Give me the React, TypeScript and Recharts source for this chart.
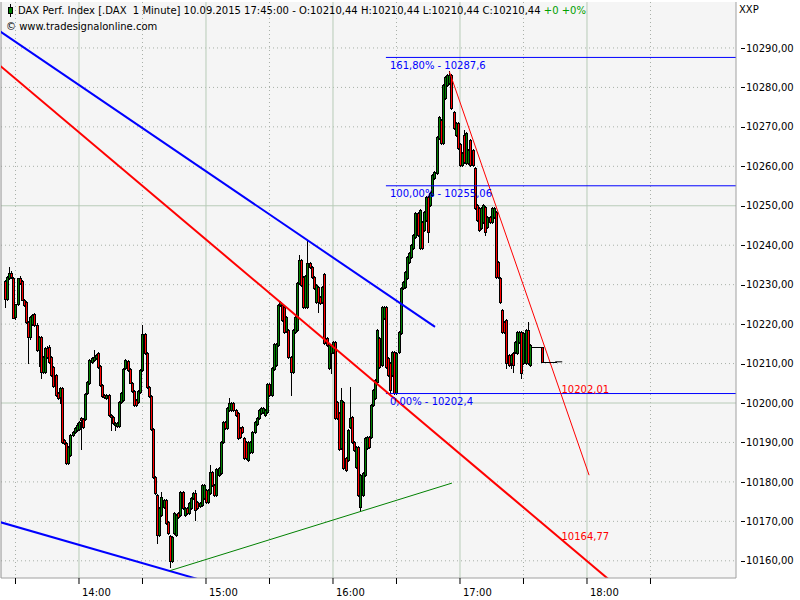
import React from 'react';
import { ComposedChart, Bar, Scatter, XAxis, YAxis, CartesianGrid, ReferenceLine, ReferenceDot } from 'recharts';

// first candle at 13:25 (minutes since midnight)
const START_MINUTE = 805;

// [open, high, low, close], one per minute
const CANDLES: [number, number, number, number][] = [
  [10230.9, 10231.2, 10224.3, 10226.4], [10226.4, 10232.2, 10226.0, 10231.9], [10231.7, 10234.5, 10231.4, 10233.0], [10233.0, 10233.5, 10231.7, 10231.9],
  [10231.7, 10232.0, 10221.5, 10221.6], [10221.8, 10225.1, 10221.3, 10225.1], [10225.1, 10231.7, 10224.8, 10231.7], [10231.7, 10232.2, 10230.2, 10230.4],
  [10230.9, 10231.2, 10226.0, 10226.1], [10226.1, 10226.4, 10224.6, 10224.9], [10225.6, 10225.9, 10220.3, 10220.5], [10220.5, 10220.8, 10210.1, 10216.7],
  [10216.7, 10222.0, 10216.2, 10221.8], [10220.0, 10222.6, 10219.8, 10222.3], [10222.6, 10222.8, 10219.5, 10219.8], [10219.8, 10220.3, 10213.2, 10213.4],
  [10213.4, 10217.0, 10209.4, 10216.7], [10216.7, 10217.0, 10206.3, 10207.9], [10207.9, 10211.9, 10207.6, 10211.7], [10207.9, 10214.2, 10207.6, 10214.0],
  [10214.0, 10214.5, 10211.4, 10211.7], [10214.2, 10214.7, 10210.2, 10210.4], [10211.7, 10212.0, 10206.8, 10207.1], [10209.1, 10209.4, 10204.0, 10204.3],
  [10207.1, 10207.4, 10201.8, 10202.0], [10202.5, 10202.8, 10201.0, 10201.3], [10201.5, 10204.1, 10200.0, 10203.8], [10203.8, 10204.1, 10189.9, 10190.1],
  [10190.6, 10190.9, 10189.6, 10189.9], [10189.9, 10190.1, 10184.5, 10184.8], [10184.8, 10189.1, 10184.5, 10188.9], [10186.8, 10192.1, 10186.6, 10191.9],
  [10191.9, 10192.9, 10191.6, 10192.7], [10192.7, 10193.9, 10192.4, 10193.7], [10193.2, 10194.9, 10192.9, 10194.4], [10193.4, 10195.4, 10193.2, 10195.2],
  [10196.2, 10196.5, 10188.3, 10195.7], [10196.0, 10196.2, 10193.7, 10193.9], [10196.0, 10202.5, 10195.7, 10202.3], [10202.5, 10205.6, 10202.3, 10205.3],
  [10205.1, 10211.2, 10204.8, 10210.9], [10210.4, 10211.7, 10210.2, 10211.4], [10210.9, 10213.4, 10210.6, 10211.7], [10211.4, 10212.4, 10211.1, 10212.2],
  [10212.7, 10212.9, 10208.9, 10209.1], [10209.4, 10209.6, 10204.3, 10204.6],
  // 14:11
  [10204.6, 10204.8, 10201.5, 10201.8], [10202.0, 10202.3, 10201.3, 10201.5], [10201.3, 10202.3, 10201.0, 10202.0], [10202.0, 10202.3, 10196.7, 10197.0],
  [10197.0, 10197.2, 10193.2, 10196.5], [10196.5, 10196.7, 10194.7, 10194.9], [10194.4, 10195.2, 10193.2, 10194.9], [10194.2, 10195.2, 10193.9, 10194.9],
  [10194.2, 10200.5, 10193.9, 10200.3], [10200.3, 10202.8, 10200.0, 10202.5], [10200.8, 10208.9, 10200.5, 10208.6], [10208.9, 10211.2, 10208.6, 10210.9],
  [10210.7, 10210.9, 10208.1, 10208.4], [10208.6, 10208.9, 10205.0, 10205.1], [10205.1, 10205.3, 10202.8, 10203.1], [10203.1, 10203.3, 10199.2, 10199.5],
  [10200.8, 10201.0, 10199.2, 10199.5], [10200.3, 10203.3, 10200.0, 10203.1], [10202.8, 10208.6, 10202.5, 10208.4], [10208.4, 10219.8, 10208.1, 10217.5],
  [10217.5, 10217.7, 10212.4, 10212.7], [10212.7, 10212.9, 10203.8, 10204.1], [10204.1, 10204.3, 10201.5, 10201.8], [10201.8, 10202.0, 10193.2, 10193.4],
  [10193.4, 10193.7, 10181.0, 10181.3], [10181.3, 10181.5, 10176.9, 10177.2], [10176.7, 10177.0, 10164.5, 10166.5], [10166.5, 10173.6, 10166.3, 10173.4],
  [10171.6, 10177.4, 10171.4, 10176.2], [10173.6, 10175.7, 10173.4, 10175.4], [10175.4, 10175.7, 10169.3, 10169.6], [10169.8, 10170.1, 10166.8, 10167.1],
  [10166.3, 10166.5, 10158.4, 10160.0], [10160.0, 10166.3, 10159.7, 10166.0], [10167.1, 10172.4, 10166.8, 10172.1], [10166.5, 10171.9, 10166.3, 10171.6],
  [10172.1, 10172.4, 10170.9, 10171.1], [10171.6, 10177.7, 10171.4, 10177.4], [10177.4, 10177.7, 10173.1, 10173.4], [10171.6, 10173.6, 10171.4, 10173.4],
  // 14:51
  [10173.4, 10173.6, 10171.9, 10172.1], [10172.1, 10174.9, 10171.9, 10174.7], [10173.4, 10176.2, 10173.1, 10175.9], [10175.9, 10177.4, 10175.7, 10177.2],
  [10177.2, 10177.9, 10170.4, 10172.9], [10174.9, 10175.2, 10173.1, 10173.4], [10173.9, 10174.9, 10173.6, 10174.7], [10174.2, 10179.5, 10173.9, 10179.2],
  [10175.9, 10179.5, 10175.7, 10179.2], [10178.0, 10178.2, 10174.7, 10174.9], [10174.9, 10178.2, 10174.7, 10178.0], [10177.2, 10184.3, 10176.9, 10182.5],
  [10182.5, 10182.8, 10179.0, 10179.2], [10179.2, 10179.5, 10176.4, 10176.7], [10176.7, 10183.5, 10176.4, 10183.3], [10181.8, 10183.8, 10181.5, 10183.5],
  [10182.3, 10190.4, 10182.0, 10190.1], [10190.1, 10195.4, 10189.9, 10195.2], [10195.2, 10195.4, 10193.4, 10193.7], [10193.7, 10199.0, 10193.4, 10198.7],
  [10198.2, 10201.3, 10198.0, 10200.0], [10198.2, 10200.3, 10198.0, 10200.0], [10200.0, 10200.3, 10198.0, 10198.2], [10198.2, 10198.5, 10196.7, 10197.0],
  [10197.5, 10197.7, 10190.9, 10191.1], [10193.7, 10193.9, 10191.1, 10191.4], [10193.9, 10194.2, 10192.4, 10192.7], [10191.1, 10191.4, 10185.8, 10186.1],
  [10190.1, 10190.4, 10185.8, 10186.1], [10185.6, 10190.4, 10185.3, 10190.1], [10187.6, 10190.4, 10187.3, 10190.1], [10187.6, 10192.9, 10187.3, 10192.7],
  [10192.7, 10195.4, 10192.4, 10195.2], [10194.7, 10196.5, 10194.4, 10196.2], [10196.2, 10198.5, 10196.0, 10198.2], [10197.5, 10199.0, 10197.2, 10198.7],
  [10197.7, 10199.0, 10197.5, 10198.7], [10197.0, 10198.5, 10196.7, 10198.2], [10197.7, 10205.1, 10197.5, 10204.8], [10204.8, 10205.1, 10201.8, 10202.0],
  [10202.0, 10209.1, 10201.8, 10208.9], [10208.6, 10215.2, 10208.4, 10215.0], [10209.6, 10215.2, 10209.4, 10215.0], [10214.7, 10225.1, 10214.5, 10224.9],
  [10224.9, 10225.9, 10224.6, 10225.6],
  // 15:36
  [10224.9, 10225.1, 10220.8, 10221.0], [10224.3, 10224.6, 10217.7, 10218.0], [10218.3, 10222.0, 10218.0, 10221.8], [10218.5, 10218.8, 10211.4, 10211.7],
  [10211.7, 10211.9, 10202.0, 10207.9], [10207.9, 10218.8, 10207.6, 10218.5], [10218.0, 10222.0, 10217.7, 10221.8], [10218.5, 10230.7, 10218.3, 10230.4],
  [10230.4, 10237.5, 10230.2, 10236.3], [10236.3, 10236.5, 10229.7, 10229.9], [10231.9, 10232.2, 10224.1, 10224.3], [10224.3, 10232.5, 10224.1, 10232.2],
  [10224.3, 10241.3, 10224.1, 10235.5], [10235.5, 10235.7, 10234.2, 10234.5], [10234.5, 10234.7, 10231.7, 10231.9], [10231.9, 10232.2, 10228.9, 10229.2],
  [10225.6, 10230.2, 10225.4, 10229.9], [10229.4, 10229.7, 10223.1, 10225.6], [10226.9, 10227.1, 10225.1, 10225.4], [10225.6, 10229.7, 10225.4, 10229.4],
  [10232.7, 10233.0, 10215.0, 10215.2], [10216.5, 10216.7, 10214.5, 10214.7], [10208.9, 10214.9, 10208.6, 10214.7], [10212.7, 10214.7, 10207.6, 10214.5],
  [10212.9, 10215.7, 10212.7, 10215.5], [10215.5, 10215.7, 10196.0, 10196.2], [10200.3, 10200.5, 10196.0, 10196.2], [10197.5, 10197.7, 10188.1, 10188.3],
  [10188.6, 10203.8, 10188.3, 10200.8], [10200.3, 10200.5, 10183.3, 10183.5], [10186.1, 10186.3, 10182.8, 10183.0], [10185.6, 10193.4, 10185.3, 10193.2],
  [10193.9, 10204.1, 10193.7, 10196.2], [10196.5, 10196.7, 10189.9, 10190.1], [10190.1, 10190.4, 10187.8, 10188.1], [10183.8, 10189.1, 10183.5, 10188.9],
  [10188.9, 10189.1, 10176.4, 10176.7], [10173.6, 10181.9, 10172.9, 10181.8], [10176.7, 10182.5, 10176.4, 10182.3], [10181.8, 10191.4, 10181.5, 10191.1],
  [10188.6, 10191.6, 10188.3, 10191.4], [10191.4, 10191.6, 10188.6, 10188.9],
  // 16:18
  [10191.4, 10199.7, 10191.1, 10199.5], [10199.5, 10203.5, 10199.2, 10203.3], [10201.3, 10206.1, 10201.0, 10205.8], [10205.3, 10218.8, 10205.1, 10218.5],
  [10216.5, 10216.7, 10208.9, 10209.1], [10209.6, 10224.6, 10209.4, 10224.3], [10221.5, 10224.6, 10221.3, 10224.3], [10224.3, 10224.6, 10208.9, 10209.1],
  [10211.4, 10211.7, 10206.8, 10207.1], [10210.1, 10210.4, 10202.5, 10203.3], [10207.1, 10213.2, 10206.8, 10212.9], [10212.9, 10213.2, 10202.3, 10202.5],
  [10202.5, 10212.9, 10202.3, 10212.7], [10212.9, 10218.3, 10212.7, 10218.0], [10217.7, 10229.4, 10217.5, 10229.2], [10229.2, 10230.9, 10228.9, 10230.7],
  [10229.4, 10233.5, 10229.2, 10233.2], [10231.7, 10237.3, 10231.4, 10237.0], [10235.8, 10238.3, 10235.5, 10238.0], [10237.0, 10240.3, 10236.8, 10240.1],
  [10239.3, 10242.8, 10239.0, 10242.6], [10242.1, 10248.4, 10241.8, 10248.2], [10248.2, 10248.4, 10242.3, 10242.6], [10239.3, 10249.2, 10239.0, 10248.9],
  [10245.9, 10246.1, 10239.0, 10239.3], [10243.9, 10248.7, 10243.6, 10248.4], [10246.4, 10252.5, 10246.1, 10252.2], [10252.2, 10252.5, 10240.8, 10243.4],
  [10250.2, 10253.5, 10249.9, 10253.2], [10252.7, 10258.1, 10252.5, 10257.8], [10257.0, 10258.8, 10256.8, 10258.6], [10258.3, 10267.7, 10258.1, 10267.4],
  [10267.2, 10272.8, 10266.9, 10272.5], [10271.7, 10272.0, 10265.7, 10265.9], [10265.9, 10280.9, 10265.7, 10280.6], [10277.3, 10282.9, 10277.1, 10282.6],
  [10280.6, 10283.4, 10280.4, 10283.2], [10281.1, 10284.2, 10280.9, 10283.2], [10283.2, 10283.4, 10274.5, 10274.8], [10273.8, 10274.0, 10269.5, 10269.7],
  // 16:58
  [10267.9, 10271.2, 10267.7, 10271.0], [10271.0, 10271.2, 10264.4, 10264.6], [10265.7, 10265.9, 10260.1, 10260.3], [10260.3, 10263.6, 10260.1, 10263.4],
  [10267.9, 10269.2, 10260.8, 10261.1], [10260.8, 10268.7, 10260.6, 10268.5], [10260.8, 10264.4, 10260.6, 10264.1], [10266.7, 10266.9, 10260.1, 10260.3],
  [10264.1, 10264.4, 10260.1, 10260.3], [10259.6, 10259.8, 10249.2, 10249.4], [10250.2, 10250.4, 10246.1, 10246.4], [10249.4, 10249.7, 10243.6, 10243.9],
  [10244.4, 10249.7, 10244.1, 10249.4], [10245.9, 10250.4, 10245.6, 10250.2], [10249.7, 10249.9, 10242.6, 10243.4], [10244.6, 10247.4, 10244.4, 10247.2],
  [10247.2, 10247.4, 10245.6, 10245.9], [10245.9, 10249.7, 10245.6, 10249.4], [10247.2, 10249.7, 10246.9, 10249.4], [10248.4, 10248.7, 10231.7, 10231.9],
  [10235.8, 10236.0, 10231.7, 10231.9], [10231.7, 10231.9, 10225.4, 10225.6], [10223.6, 10223.8, 10217.7, 10218.0], [10220.5, 10220.8, 10217.7, 10218.0],
  [10221.0, 10221.3, 10208.9, 10210.1], [10212.2, 10212.4, 10209.4, 10209.6], [10210.1, 10212.4, 10208.9, 10212.2], [10212.7, 10212.9, 10207.9, 10209.6],
  [10212.9, 10215.7, 10212.7, 10215.5], [10212.7, 10218.3, 10212.4, 10218.0], [10215.5, 10218.3, 10215.2, 10218.0], [10218.0, 10218.3, 10206.3, 10207.6],
  [10210.1, 10217.9, 10209.9, 10217.7], [10210.1, 10218.8, 10209.9, 10218.5], [10218.5, 10220.5, 10209.9, 10210.1], [10209.6, 10214.9, 10209.4, 10214.7],
  // 17:34
  [10214.2, 10214.2, 10214.2, 10214.2], [10214.2, 10214.2, 10214.2, 10214.2], [10214.2, 10214.2, 10214.2, 10214.2], [10214.2, 10214.2, 10214.2, 10214.2],
  [10214.2, 10214.2, 10214.2, 10214.2], [10214.2, 10214.2, 10210.44, 10210.44],
  [10210.44, 10210.44, 10210.44, 10210.44], [10210.44, 10210.44, 10210.44, 10210.44], [10210.44, 10210.44, 10210.44, 10210.44],
  [10210.44, 10210.44, 10210.44, 10210.44], [10210.44, 10210.44, 10210.44, 10210.44], [10210.44, 10210.44, 10210.44, 10210.44],
];

const X_DOMAIN: [number, number] = [803.15, 1150.4];
const Y_DOMAIN: [number, number] = [10155.64, 10301.65];

const X_TICKS = [810, 840, 870, 900, 930, 960, 990, 1020, 1050, 1080, 1110];
const X_TICK_LABELS = ['', '14:00', '', '15:00', '', '16:00', '', '17:00', '', '18:00', ''];
const X_GRID_SOLID = [840, 900, 960, 1020, 1080];
const X_GRID_DOTTED = [810, 870, 930, 990, 1050, 1110];

const Y_TICKS = [10160, 10170, 10180, 10190, 10200, 10210, 10220, 10230, 10240, 10250, 10260, 10270, 10280, 10290];
const Y_TICK_LABELS = ['10160,00', '10170,00', '10180,00', '10190,00', '10200,00', '10210,00', '10220,00', '10230,00', '10240,00', '10250,00', '10260,00', '10270,00', '10280,00', '10290,00'];
const Y_GRID_SOLID = [10200, 10250];
const Y_GRID_DOTTED = [10160, 10170, 10180, 10190, 10210, 10220, 10230, 10240, 10260, 10270, 10280, 10290];

// trend lines: [[minute, price], [minute, price]]
const BLUE_UPPER: [number, number][] = [[802.7, 10294.2], [1008.2, 10219.3]];
const BLUE_LOWER: [number, number][] = [[802.7, 10169.8], [897.2, 10155.2]];
const RED_CHANNEL: [number, number][] = [[802.7, 10285.5], [1092, 10154.5]];
const GREEN_SUPPORT: [number, number][] = [[883, 10157.5], [1016.2, 10179.7]];
const RED_THIN: [number, number][] = [[1015, 10284.0], [1081, 10181.7]];

// Fibonacci levels
const FIB_START = 985;
const FIB_LEVELS = [10287.6, 10255.06, 10202.4];
const FIB_LABELS = ['161,80% - 10287,6', '100,00% - 10255,06', '0,00% - 10202,4'];

// values of the red lines at the label time
const RED_LABEL_MINUTE = 1067;
const RED_LABEL_VALUES = [10202.01, 10164.77];
const RED_LABEL_TEXTS = ['10202,01', '10164,77'];

const LAST_PRICE = 10210.44;
const LAST_PRICE_SPAN: [number, number] = [1065, 1068.3];

const FONT = 'DejaVu Sans';

const data = CANDLES.map((c, i) => ({
  t: START_MINUTE + i,
  open: c[0],
  high: c[1],
  low: c[2],
  close: c[3],
  range: [c[2], c[1]],
}));
// candles with no range (open = high = low = close) are drawn by a separate series
const dojiData = data.filter((d) => d.high === d.low);

const Candle = (props: any) => {
  const { x, y, width, height, payload } = props;
  if (x == null || y == null || !payload) return null;
  const { open, close, high, low } = payload;
  const span = high - low;
  if (!(span > 0)) return null;
  const h = Math.abs(height || 0);
  const yTop = height < 0 ? y + height : y;
  const cx = Math.round(x + (width || 0) / 2);
  const ppu = h / span;
  const yO = yTop + (high - open) * ppu;
  const yC = yTop + (high - close) * ppu;
  const top = Math.round(Math.min(yO, yC));
  const bot = Math.round(Math.max(yO, yC));
  const fill = close > open ? '#008000' : close < open ? '#ff0000' : '#000000';
  return (
    <g>
      <line x1={cx + 0.5} x2={cx + 0.5} y1={Math.round(yTop)} y2={Math.round(yTop + h) + 1} stroke="#000" strokeWidth={1} />
      <rect x={cx - 0.5} y={top + 0.5} width={2} height={Math.max(bot - top, 0)} fill={fill} stroke="#000" strokeWidth={1} />
    </g>
  );
};

const Doji = (props: any) => {
  const { cx, cy } = props;
  if (cx == null || cy == null) return null;
  const x = Math.round(cx);
  const y = Math.round(cy);
  return <line x1={x - 1} x2={x + 2} y1={y + 0.5} y2={y + 0.5} stroke="#000" strokeWidth={1} />;
};

const YTick = (props: any) => {
  const { x, y, payload } = props;
  const idx = Y_TICKS.indexOf(payload.value);
  return (
    <g>
      <line x1={x + 5} x2={x + 9} y1={Math.round(y) + 0.5} y2={Math.round(y) + 0.5} stroke="#000" strokeWidth={1} />
      <text x={x + 10} y={y} dy="0.36em" fontSize={10} fontFamily={FONT} fill="#000">
        {Y_TICK_LABELS[idx]}
      </text>
    </g>
  );
};

const XTick = (props: any) => {
  const { x, y, payload } = props;
  const idx = X_TICKS.indexOf(payload.value);
  const label = X_TICK_LABELS[idx];
  if (!label) return <g />;
  return (
    <text x={x + 3} y={y + 10} fontSize={10} fontFamily={FONT} fill="#000">
      {label}
    </text>
  );
};

const seg = (p: [number, number][]) => [
  { x: p[0][0], y: p[0][1] },
  { x: p[1][0], y: p[1][1] },
];

export default function App() {
  return (
    <div style={{ position: 'absolute', left: 0, top: 0, width: 800, height: 600, background: '#ffffff', overflow: 'hidden' }}>
      <ComposedChart
        width={800}
        height={600}
        data={data}
        margin={{ top: 2, right: 0, bottom: 0, left: 1 }}
      >
        <CartesianGrid
          fill="#f5f5f5"
          stroke="#a8b0a8"
          strokeDasharray="1 3"
          horizontalValues={Y_GRID_DOTTED}
          verticalValues={X_GRID_DOTTED}
        />
        <CartesianGrid
          stroke="#b8cbb8"
          horizontalValues={Y_GRID_SOLID}
          verticalValues={X_GRID_SOLID}
        />
        <XAxis
          type="number"
          dataKey="t"
          domain={X_DOMAIN}
          allowDataOverflow
          ticks={X_TICKS}
          interval={0}
          height={22}
          tickSize={6}
          tickMargin={2}
          axisLine={{ stroke: '#a0a0a0' }}
          tickLine={{ stroke: '#000' }}
          tick={<XTick />}
        />
        <YAxis
          orientation="right"
          type="number"
          domain={Y_DOMAIN}
          allowDataOverflow
          ticks={Y_TICKS}
          interval={0}
          width={64}
          tickSize={0}
          tickMargin={0}
          tickLine={false}
          axisLine={{ stroke: '#a0a0a0' }}
          tick={<YTick />}
        />
        <ReferenceLine x={X_DOMAIN[0]} stroke="#909090" strokeWidth={1} />
        <Bar dataKey="range" barSize={3} isAnimationActive={false} shape={<Candle />} />
        <Scatter data={dojiData} dataKey="close" isAnimationActive={false} shape={<Doji />} />
        {FIB_LEVELS.map((v, i) => (
          <ReferenceLine
            key={'fib' + i}
            segment={[{ x: FIB_START, y: v }, { x: X_DOMAIN[1], y: v }]}
            stroke="#0000ff"
            strokeWidth={1}
            ifOverflow="hidden"
            label={{ value: FIB_LABELS[i], position: 'insideTopLeft', offset: 4, fill: '#0000ff', fontSize: 10, fontFamily: FONT }}
          />
        ))}
        <ReferenceLine segment={seg(BLUE_UPPER)} stroke="#0000ff" strokeWidth={2} ifOverflow="hidden" />
        <ReferenceLine segment={seg(BLUE_LOWER)} stroke="#0000ff" strokeWidth={2} ifOverflow="hidden" />
        <ReferenceLine segment={seg(RED_CHANNEL)} stroke="#ff0000" strokeWidth={2} ifOverflow="hidden" />
        <ReferenceLine segment={seg(GREEN_SUPPORT)} stroke="#008000" strokeWidth={1} ifOverflow="hidden" />
        <ReferenceLine segment={seg(RED_THIN)} stroke="#ff0000" strokeWidth={1} ifOverflow="hidden" />
        <ReferenceLine
          segment={[{ x: LAST_PRICE_SPAN[0], y: LAST_PRICE }, { x: LAST_PRICE_SPAN[1], y: LAST_PRICE }]}
          stroke="#000"
          strokeWidth={1}
          ifOverflow="hidden"
        />
        {RED_LABEL_VALUES.map((v, i) => (
          <ReferenceDot
            key={'rl' + i}
            x={RED_LABEL_MINUTE}
            y={v}
            r={0}
            fill="none"
            stroke="none"
            label={{ value: RED_LABEL_TEXTS[i], position: 'insideBottomLeft', offset: 2, fill: '#ff0000', fontSize: 10, fontFamily: FONT }}
          />
        ))}
      </ComposedChart>
      <div style={{ position: 'absolute', left: 10, top: 4, width: 1, height: 13, background: '#000' }} />
      <div style={{ position: 'absolute', left: 8, top: 7, width: 3, height: 5, background: '#008000', border: '1px solid #000' }} />
      <div style={{ position: 'absolute', left: 18, top: 5, fontFamily: FONT, fontSize: 10, lineHeight: '12px', whiteSpace: 'pre', color: '#000' }}>
        {'DAX Perf. Index [.DAX  1 Minute] 10.09.2015 17:45:00 - O:10210,44 H:10210,44 L:10210,44 C:10210,44 '}
        <span style={{ color: '#00a000' }}>{'+0 +0%'}</span>
      </div>
      <div style={{ position: 'absolute', left: 6, top: 21, fontFamily: FONT, fontSize: 10, lineHeight: '12px', whiteSpace: 'pre', color: '#000' }}>
        {'© www.tradesignalonline.com'}
      </div>
      <div style={{ position: 'absolute', left: 739, top: 4, fontFamily: FONT, fontSize: 10, lineHeight: '12px', color: '#000' }}>
        XXP
      </div>
    </div>
  );
}
